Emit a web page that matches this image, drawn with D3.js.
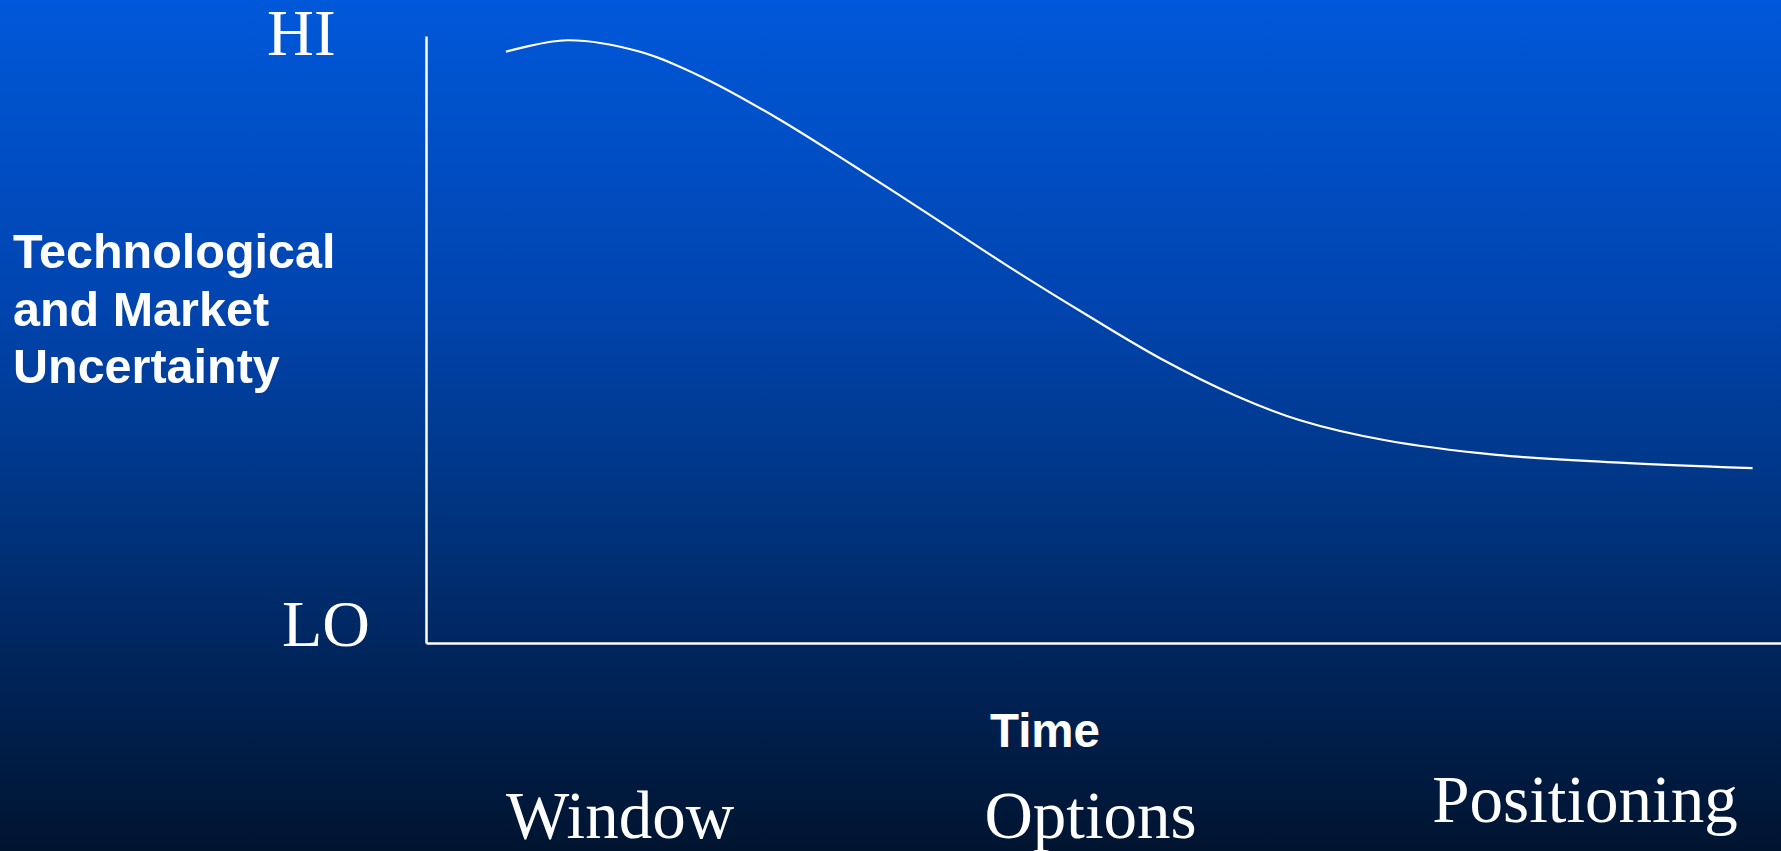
<!DOCTYPE html>
<html>
<head>
<meta charset="utf-8">
<script src="https://cdn.jsdelivr.net/npm/d3@7"></script>
<style>
  html, body { margin: 0; padding: 0; overflow: hidden; }
</style>
</head>
<body>
<svg class="main"></svg>
<script>
// uncertainty curve, time 0..100 vs uncertainty 0 (LO) .. 100 (HI)
var timeVals = [5.9, 10.4, 15.8, 20.5, 25.9, 31.5, 37.2, 42.8, 48.5, 54.1, 59.8, 64.5, 70.8, 79.0, 87.2, 97.9]
var uncertainty = [97.4, 99.3, 97.4, 93.1, 86.5, 78.7, 70.5, 62.3, 54.4, 47.0, 40.7, 36.7, 33.4, 31.0, 29.8, 28.8]
var phases = ['Window', 'Options', 'Positioning']
var yLabelLines = ['Technological', 'and Market', 'Uncertainty']
var yEnds = ['HI', 'LO']
var xTitle = 'Time'

var data = timeVals.map(function(t, i) { return {t: t, u: uncertainty[i]} })

const width = 1781
const height = 851

var svg = d3.select('svg.main')
  .attr('width', width)
  .attr('height', height)

// background gradient
var grad = svg.append('defs').append('linearGradient')
  .attr('id', 'bg')
  .attr('x1', 0).attr('y1', 0).attr('x2', 0).attr('y2', 1)
var stops = [[0, '#0058da'], [0.35, '#0045b0'], [0.6, '#003480'], [0.8, '#002357'], [1, '#00142f']]
stops.forEach(s => {
  grad.append('stop').attr('offset', s[0]).attr('stop-color', s[1])
})
svg.append('rect')
  .attr('width', width)
  .attr('height', height)
  .attr('fill', 'url(#bg)')

// plot area
const margin = {top: 36, right: 0, bottom: 208, left: 426}

const xScale = d3.scaleLinear()
  .domain([0, 100])
  .range([margin.left, width - margin.right])

const yScale = d3.scaleLinear()
  .domain([0, 100])
  .range([height - margin.bottom, margin.top])

// axes, no ticks
svg.append('g')
  .attr('transform', `translate(0, ${yScale(0)})`)
  .call(d3.axisBottom(xScale).tickValues([]).tickSizeOuter(0))
svg.append('g')
  .attr('transform', `translate(${xScale(0)}, 0)`)
  .call(d3.axisLeft(yScale).tickValues([]).tickSizeOuter(0))
svg.selectAll('.domain')
  .attr('stroke', '#ffffff')
  .attr('stroke-width', 2.5)

// curve
var line = d3.line()
  .x(d => xScale(d.t))
  .y(d => yScale(d.u))
  .curve(d3.curveCatmullRom.alpha(0.5))

svg.append('path')
  .datum(data)
  .attr('d', line)
  .attr('fill', 'none')
  .attr('stroke', '#ffffff')
  .attr('stroke-width', 2.2)

var serif = '"Liberation Serif", "Times New Roman", serif'
var sans = '"Liberation Sans", Arial, sans-serif'

// HI / LO
svg.append('text')
  .text(yEnds[0])
  .attr('x', 267).attr('y', 55)
  .attr('fill', '#fff')
  .attr('font-family', serif)
  .attr('font-size', 65)
svg.append('text')
  .text(yEnds[1])
  .attr('x', 282).attr('y', 646)
  .attr('fill', '#fff')
  .attr('font-family', serif)
  .attr('font-size', 66)

// y title
var yt = svg.append('text')
  .attr('fill', '#fff')
  .attr('font-family', sans)
  .attr('font-weight', 'bold')
  .attr('font-size', 48.5)
yLabelLines.forEach((l, i) => {
  yt.append('tspan')
    .text(l)
    .attr('x', 13)
    .attr('y', 268 + i * 57.5)
})

// x title
svg.append('text')
  .text(xTitle)
  .attr('x', 990).attr('y', 747)
  .attr('fill', '#fff')
  .attr('font-family', sans)
  .attr('font-weight', 'bold')
  .attr('font-size', 47.5)

// phase labels
var phaseScale = d3.scalePoint()
  .domain(phases)
  .range([620, 1585])
var phaseNudge = [[0, 0], [-12, 0], [0, -16]]

svg.selectAll('text.phase')
  .data(phases)
  .join('text')
  .attr('class', 'phase')
  .text(d => d)
  .attr('x', (d, i) => phaseScale(d) + phaseNudge[i][0])
  .attr('y', (d, i) => 838 + phaseNudge[i][1])
  .attr('text-anchor', 'middle')
  .attr('fill', '#fff')
  .attr('font-family', serif)
  .attr('font-size', 67)
</script>
</body>
</html>
